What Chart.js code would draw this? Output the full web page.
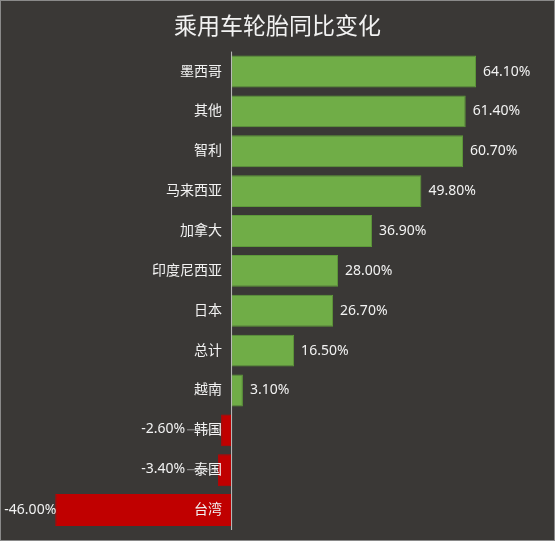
<!DOCTYPE html>
<html>
<head>
<meta charset="utf-8">
<script src="https://cdn.jsdelivr.net/npm/chart.js@4"></script>
<style>
  html, body { margin: 0; padding: 0; background: #3a3836; }
  #wrap { width: 555px; height: 541px; box-sizing: border-box; border: 1px solid #8a8a8a; }
</style>
</head>
<body>
<div id="wrap"><canvas id="barChart" width="553" height="539"></canvas></div>
<script>
const categories = ['墨西哥', '其他', '智利', '马来西亚', '加拿大', '印度尼西亚', '日本', '总计', '越南', '韩国', '泰国', '台湾'];
const changes = [64.1, 61.4, 60.7, 49.8, 36.9, 28.0, 26.7, 16.5, 3.1, -2.6, -3.4, -46.0];

const FONT = '"Noto Sans", "Noto Sans CJK SC", sans-serif';
const TEXT = '#f2f2f2';

// labels drawn next to the zero line, values at bar ends
const labelPlugin = {
  id: 'labels',
  afterDatasetsDraw(chart) {
    const ctx = chart.ctx;
    const xs = chart.scales.x, area = chart.chartArea;
    const meta = chart.getDatasetMeta(0);
    const x0 = xs.getPixelForValue(0);
    ctx.save();

    // axis line
    ctx.strokeStyle = '#bfbfbf';
    ctx.lineWidth = 1;
    ctx.beginPath();
    ctx.moveTo(x0 + 0.5, area.top);
    ctx.lineTo(x0 + 0.5, area.bottom);
    ctx.stroke();

    ctx.font = '14px ' + FONT;
    ctx.textBaseline = 'middle';
    meta.data.forEach((bar, i) => {
      const v = changes[i];
      const y = bar.y;
      // category label
      ctx.fillStyle = TEXT;
      ctx.textAlign = 'right';
      const labRight = x0 - 9;
      ctx.fillText(categories[i], labRight, y);
      const labLeft = labRight - ctx.measureText(categories[i]).width;

      const txt = v.toFixed(2) + '%';
      if (v >= 0) {
        ctx.textAlign = 'left';
        ctx.fillText(txt, bar.x + 7, y);
      } else if (bar.x < labLeft) {
        ctx.textAlign = 'right';
        ctx.fillText(txt, bar.x + 1, y);
      } else {
        const r = labLeft - 9;
        ctx.textAlign = 'right';
        ctx.fillText(txt, r, y - 1);
        ctx.strokeStyle = 'rgba(200,200,200,0.7)';
        ctx.beginPath();
        ctx.moveTo(r + 2, y - 0.5);
        ctx.lineTo(bar.x, y - 0.5);
        ctx.stroke();
      }
    });
    ctx.restore();
  }
};

new Chart(document.getElementById('barChart'), {
  type: 'bar',
  data: {
    labels: categories,
    datasets: [{
      data: changes,
      backgroundColor: changes.map(v => v >= 0 ? '#70ad47' : '#c00000'),
      borderColor: changes.map(v => v >= 0 ? '#5e9a3a' : '#c00000'),
      borderWidth: 1,
      borderSkipped: false,
      categoryPercentage: 0.8,
      barPercentage: 1.0
    }]
  },
  options: {
    indexAxis: 'y',
    responsive: false,
    animation: false,
    layout: { padding: { top: 0, bottom: 10, left: 0, right: 0 } },
    scales: {
      x: { display: false, min: -60.2, max: 84.5 },
      y: { display: false }
    },
    plugins: {
      legend: { display: false },
      tooltip: { enabled: false },
      title: {
        display: true,
        text: '乘用车轮胎同比变化',
        color: TEXT,
        font: { family: '"Noto Sans CJK SC", sans-serif', size: 23, weight: 'normal' },
        padding: { top: 10, bottom: 13 }
      }
    }
  },
  plugins: [labelPlugin]
});
</script>
</body>
</html>
